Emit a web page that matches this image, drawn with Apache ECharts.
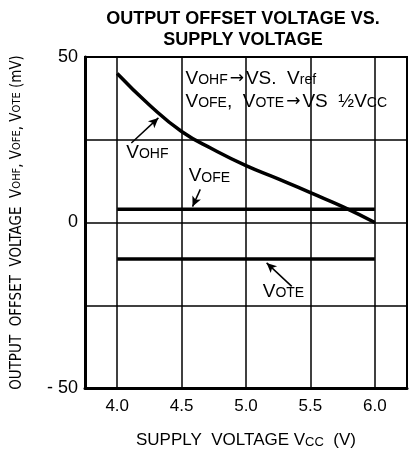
<!DOCTYPE html>
<html>
<head>
<meta charset="utf-8">
<script src="https://cdn.jsdelivr.net/npm/echarts@6/dist/echarts.min.js"></script>
<style>
  html, body { margin: 0; padding: 0; background: #fff; }
  #chart { width: 409px; height: 458px; }
</style>
</head>
<body>
<div id="chart"></div>
<script>
// supply voltage (V)
var vcc = [4.0, 4.25, 4.5, 4.75, 5.0, 5.25, 5.5, 5.75, 6.0];
// offset voltages (mV)
var vohf = [45, 35.5, 27.5, 22, 17.2, 13.2, 9, 4.8, 0];
var vofeX = [4.0, 6.0];
var vofe = [4, 4];
var voteX = [4.0, 6.0];
var vote = [-11, -11];
var xTicks = [4.0, 4.5, 5.0, 5.5, 6.0];
var yLabels = [50, 0, -50];

var font = 'Liberation Sans, Arial, sans-serif';
var narrow = 'Liberation Sans Narrow, DejaVu Sans Condensed, sans-serif';
var chart = echarts.init(document.getElementById('chart'));

function pairs(xs, ys) {
    return xs.map(function (x, i) { return [x, ys[i]]; });
}

var option = {
    animation: false,
    title: {
        text: 'OUTPUT OFFSET VOLTAGE VS.\nSUPPLY VOLTAGE',
        left: 238,
        top: 4,
        textAlign: 'center',
        textStyle: {
            fontFamily: font,
            fontWeight: 'bold',
            fontSize: 18,
            lineHeight: 21,
            color: '#000'
        }
    },
    grid: {
        left: 85,
        right: 2,
        top: 57,
        bottom: 70,
        show: true,
        borderColor: '#000',
        borderWidth: 2
    },
    xAxis: {
        type: 'value',
        min: 3.75,
        max: 6.25,
        name: 'SUPPLY  VOLTAGE V{s|CC}  (V)',
        nameLocation: 'middle',
        nameGap: 44,
        nameTextStyle: {
            fontFamily: font,
            fontSize: 17,
            color: '#000',
            rich: {
                s: { fontFamily: font, fontSize: 13, color: '#000', verticalAlign: 'bottom', padding: [3, 0, 0, 0] }
            }
        },
        axisLine: { show: true, onZero: false, lineStyle: { color: '#000', width: 3 } },
        axisTick: { show: false, customValues: xTicks },
        axisLabel: {
            customValues: xTicks,
            fontFamily: font,
            fontSize: 17,
            color: '#000',
            margin: 10,
            formatter: function (v) { return v.toFixed(1); }
        },
        splitLine: { show: true, lineStyle: { color: '#000', width: 1.5 } }
    },
    yAxis: {
        type: 'value',
        min: -50,
        max: 50,
        interval: 25,
        name: 'OUTPUT  OFFSET  VOLTAGE  V{s|OHF}, V{s|OFE}, V{s|OTE} (mV)',
        nameLocation: 'middle',
        nameRotate: 90,
        nameGap: 60,
        nameTextStyle: {
            fontFamily: narrow,
            fontSize: 15,
            color: '#000',
            rich: {
                s: { fontFamily: narrow, fontSize: 11, color: '#000' }
            }
        },
        axisLine: { show: true, onZero: false, lineStyle: { color: '#000', width: 3 } },
        axisTick: { show: false },
        axisLabel: {
            fontFamily: font,
            fontSize: 18,
            color: '#000',
            margin: 7,
            formatter: function (v) {
                if (yLabels.indexOf(v) < 0) return '';
                return v < 0 ? '- ' + Math.abs(v) : String(v);
            }
        },
        splitLine: { show: true, lineStyle: { color: '#000', width: 1.5 } }
    },
    series: [
        {
            name: 'VOHF',
            type: 'line',
            data: pairs(vcc, vohf),
            smooth: true,
            symbol: 'none',
            lineStyle: { color: '#000', width: 3.5 },
            markLine: {
                silent: true,
                symbol: ['none', 'arrow'],
                symbolSize: [7, 10],
                label: { show: false },
                lineStyle: { color: '#000', width: 1.5, type: 'solid' },
                data: [
                    [{ coord: [4.11, 24] }, { coord: [4.32, 31.6] }],
                    [{ coord: [4.645, 10] }, { coord: [4.585, 4.8] }],
                    [{ coord: [5.355, -19.3] }, { coord: [5.16, -12.2] }]
                ]
            }
        },
        {
            name: 'VOFE',
            type: 'line',
            data: pairs(vofeX, vofe),
            symbol: 'none',
            lineStyle: { color: '#000', width: 3.5 }
        },
        {
            name: 'VOTE',
            type: 'line',
            data: pairs(voteX, vote),
            symbol: 'none',
            lineStyle: { color: '#000', width: 3.5 }
        }
    ],
    graphic: []
};

chart.setOption(option);

// annotation texts, anchored in data space
var sub = { fontFamily: font, fontSize: 14, color: '#000', verticalAlign: 'bottom', padding: [0, 0, 1, 0] };
var arr = { fontFamily: 'DejaVu Sans, sans-serif', fontSize: 17, color: '#000', padding: [0, 2, 0, 2] };
function note(x, y, text) {
    var p = chart.convertToPixel({ gridIndex: 0 }, [x, y]);
    return {
        type: 'text',
        x: p[0],
        y: p[1],
        style: {
            text: text,
            fontFamily: font,
            fontSize: 19,
            fill: '#000',
            verticalAlign: 'middle',
            rich: { s: sub, a: arr }
        }
    };
}
chart.setOption({
    graphic: [
        note(4.53, 43.5, 'V{s|OHF}{a|\u2192}VS.  V{s|ref}'),
        note(4.53, 36.5, 'V{s|OFE},  V{s|OTE}{a|\u2192}VS  \u00bdV{s|CC}'),
        note(4.07, 21, 'V{s|OHF}'),
        note(4.555, 14, 'V{s|OFE}'),
        note(5.13, -21, 'V{s|OTE}')
    ]
});
</script>
</body>
</html>
